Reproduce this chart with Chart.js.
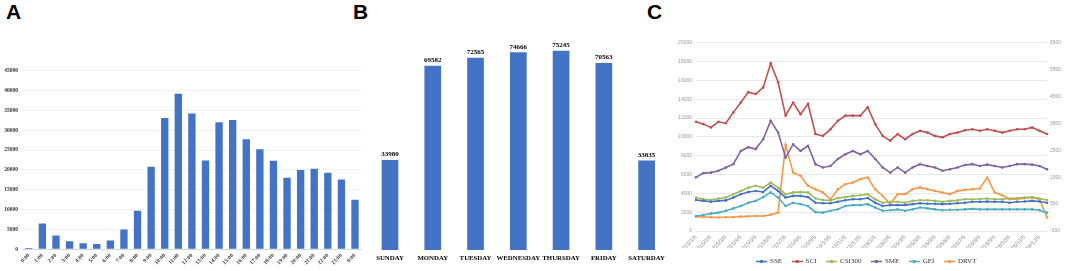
<!DOCTYPE html>
<html>
<head>
<meta charset="utf-8">
<script src="https://cdn.jsdelivr.net/npm/chart.js@4.4.1/dist/chart.umd.min.js"></script>
<style>
  body { margin: 0; background: #fff; width: 1065px; height: 271px; position: relative; overflow: hidden; }
  canvas { position: absolute; }
  .tag { position: absolute; top: 0.5px; font: bold 21px "Liberation Sans", Arial, sans-serif; line-height: 21px; color: #000; }
</style>
</head>
<body>
<div class="tag" style="left:6px">A</div>
<div class="tag" style="left:353px">B</div>
<div class="tag" style="left:647px">C</div>
<canvas id="chartA" width="365" height="216" style="left:0;top:55px"></canvas>
<canvas id="chartB" width="310" height="241" style="left:360px;top:30px"></canvas>
<canvas id="chartC" width="397" height="241" style="left:668px;top:30px"></canvas>
<script>
// panel A: hourly counts
const hours = ["0:00","1:00","2:00","3:00","4:00","5:00","6:00","7:00","8:00","9:00","10:00","11:00","12:00",
  "13:00","14:00","15:00","16:00","17:00","18:00","19:00","20:00","21:00","22:00","23:00","0:00"];
const hourCounts = [350, 6500, 3500, 2000, 1500, 1350, 2200, 5000, 9700, 20800, 33100, 39200, 34200,
  22400, 32000, 32600, 27700, 25200, 22300, 18050, 20000, 20300, 19300, 17600, 12500];

// panel B: weekday counts
const weekdays = ["SUNDAY","MONDAY","TUESDAY","WEDNESDAY","THURSDAY","FRIDAY","SATURDAY"];
const weekdayCounts = [33980, 69582, 72565, 74666, 75245, 70563, 33835];

// panel C: index series, sampled twice a month
const dates = ["2015/1/5","2015/1/20","2015/2/5","2015/2/20","2015/3/5","2015/3/20","2015/4/5","2015/4/20",
  "2015/5/5","2015/5/20","2015/6/5","2015/6/20","2015/7/5","2015/7/20","2015/8/5","2015/8/20",
  "2015/9/5","2015/9/20","2015/10/5","2015/10/20","2015/11/5","2015/11/20","2015/12/5","2015/12/20",
  "2016/1/5","2016/1/20","2016/2/5","2016/2/20","2016/3/5","2016/3/20","2016/4/5","2016/4/20",
  "2016/5/5","2016/5/20","2016/6/5","2016/6/20","2016/7/5","2016/7/20","2016/8/5","2016/8/20",
  "2016/9/5","2016/9/20","2016/10/5","2016/10/20","2016/11/5","2016/11/20","2016/12/5","2016/12/20"];
const sse = [3300,3200,3100,3200,3250,3550,3900,4150,4250,4150,4800,4250,3550,3730,3730,3600,
  3000,2950,2950,3100,3270,3370,3370,3500,3000,2650,2750,2750,2750,2850,2950,2900,
  2900,2850,2900,2950,3000,3100,3100,3130,3100,3100,3000,3100,3130,3200,3130,3000];
const sci = [11600,11350,11000,11600,11450,12600,13650,14750,14550,15250,17800,15800,12250,13650,12400,13500,
  10300,10100,10800,11700,12250,12250,12250,13150,11350,10100,9600,10300,9750,10300,10650,10450,
  10100,9950,10300,10450,10700,10800,10650,10800,10650,10450,10650,10800,10800,11000,10650,10300];
const csi300 = [3550,3370,3300,3450,3550,3900,4250,4600,4800,4600,5150,4600,3900,4100,4150,4100,
  3450,3300,3250,3500,3600,3730,3800,3900,3370,3000,3100,3100,3000,3200,3270,3270,
  3200,3100,3200,3250,3370,3370,3400,3450,3370,3370,3450,3500,3550,3600,3450,3300];
const sme = [5700,6150,6200,6400,6750,7100,8500,8900,8700,9750,11700,10450,7800,9200,8500,9050,
  7100,6750,6900,7650,8150,8500,8150,8500,7650,6750,6200,6750,6200,6750,7100,6900,
  6750,6400,6550,6750,7000,7100,6900,7050,6900,6750,6900,7100,7100,7050,6900,6550];
const gei = [1600,1700,1850,1950,2150,2400,2650,3000,3200,3600,4100,3550,2650,3000,2850,2650,
  2000,1950,2150,2300,2650,2750,2750,2850,2500,2150,2200,2300,2150,2300,2500,2400,
  2300,2200,2250,2250,2300,2350,2300,2300,2300,2300,2300,2300,2300,2300,2200,1950];
const drvt = [35,20,10,0,10,20,35,50,60,60,100,185,2700,1680,1550,1180,
  1050,930,680,1050,1240,1300,1430,1490,1050,800,500,870,870,1050,1120,1050,
  990,930,870,990,1030,1050,1080,1490,930,830,680,680,720,750,680,0];

const barBlue = "#4472C4";
const serif = '"Liberation Serif", "Times New Roman", serif';
const sans = '"Liberation Sans", Arial, sans-serif';
const plainNumber = v => String(v);

// A
new Chart(document.getElementById("chartA"), {
  type: "bar",
  data: {
    labels: hours,
    datasets: [{ data: hourCounts, backgroundColor: barBlue, barPercentage: 0.54, categoryPercentage: 1 }]
  },
  options: {
    responsive: false,
    animation: false,
    layout: { padding: { top: 15.7, right: 3.2 } },
    plugins: { legend: { display: false }, tooltip: { enabled: false } },
    scales: {
      x: {
        afterFit: s => { s.height = 21.7; },
        grid: { display: false, drawTicks: false },
        border: { color: "#d9d9d9" },
        ticks: { autoSkip: false, maxRotation: 45, minRotation: 45, padding: 3,
          font: { family: serif, size: 5.5, weight: "bold" }, color: "#333" }
      },
      y: {
        min: 0, max: 45000,
        afterFit: s => { s.width = 22; },
        grid: { color: "#f2f2f2", drawTicks: false },
        border: { display: false },
        ticks: { stepSize: 5000, padding: 4, callback: plainNumber,
          font: { family: serif, size: 5.5, weight: "bold" }, color: "#333" }
      }
    }
  }
});

// B
const barValueLabels = {
  id: "barValueLabels",
  afterDatasetsDraw(chart) {
    const ctx = chart.ctx;
    const ds = chart.data.datasets[0];
    ctx.save();
    ctx.font = "bold 7px " + serif;
    ctx.fillStyle = "#000";
    ctx.textAlign = "center";
    ctx.textBaseline = "bottom";
    chart.getDatasetMeta(0).data.forEach((bar, i) => {
      ctx.fillText(ds.data[i], bar.x, bar.y - 2);
    });
    ctx.restore();
  }
};

new Chart(document.getElementById("chartB"), {
  type: "bar",
  data: {
    labels: weekdays,
    datasets: [{ data: weekdayCounts, backgroundColor: barBlue, barPercentage: 0.39, categoryPercentage: 1 }]
  },
  options: {
    responsive: false,
    animation: false,
    layout: { padding: { top: 8.1, left: 8.6, right: 2 } },
    plugins: { legend: { display: false }, tooltip: { enabled: false } },
    scales: {
      x: {
        afterFit: s => { s.height = 21; },
        grid: { display: false, drawTicks: false },
        border: { display: false },
        ticks: { autoSkip: false, maxRotation: 0, padding: 4,
          font: { family: serif, size: 6.8, weight: "bold" }, color: "#000" }
      },
      y: { display: false, min: 0, max: 80000 }
    }
  },
  plugins: [barValueLabels]
});

// C
const seriesNames = ["SSE", "SCI", "CSI300", "SME", "GEI", "DRVT"];
const seriesColors = ["#4472C4", "#C0504D", "#9BBB59", "#8064A2", "#4BACC6", "#F79646"];
const seriesData = [sse, sci, csi300, sme, gei, drvt];

function legendMarker(color) {
  const c = document.createElement("canvas");
  c.width = 11; c.height = 5;
  const g = c.getContext("2d");
  g.strokeStyle = color; g.lineWidth = 1.5;
  g.beginPath(); g.moveTo(0, 2.5); g.lineTo(11, 2.5); g.stroke();
  g.fillStyle = color;
  g.beginPath(); g.arc(5.5, 2.5, 1.8, 0, Math.PI * 2); g.fill();
  return c;
}
const markers = seriesColors.map(legendMarker);

new Chart(document.getElementById("chartC"), {
  type: "line",
  data: {
    labels: dates,
    datasets: seriesNames.map((name, i) => ({
      label: name,
      data: seriesData[i],
      yAxisID: name === "DRVT" ? "y1" : "y",
      borderColor: seriesColors[i],
      backgroundColor: seriesColors[i],
      borderWidth: 1.6,
      pointRadius: 1.3,
      pointBorderWidth: 0,
      tension: 0
    }))
  },
  options: {
    responsive: false,
    animation: false,
    layout: { padding: { top: 12.7, bottom: -4 } },
    plugins: {
      tooltip: { enabled: false },
      legend: {
        position: "bottom",
        labels: {
          usePointStyle: true,
          pointStyleWidth: 10,
          padding: 10,
          color: "#333",
          font: { family: serif, size: 7 },
          generateLabels: chart => Chart.defaults.plugins.legend.labels.generateLabels(chart)
            .map((item, i) => ({ ...item, pointStyle: markers[i] }))
        }
      }
    },
    scales: {
      x: {
        afterFit: s => { s.height = 17; },
        grid: { display: false, drawTicks: false },
        border: { display: false },
        ticks: {
          autoSkip: false, maxRotation: 45, minRotation: 45, padding: 3,
          font: { family: sans, size: 5.5 }, color: "#888",
          callback: function (v, i) { return i % 2 === 0 ? this.getLabelForValue(v) : ""; }
        }
      },
      y: {
        position: "left",
        min: 0, max: 20000,
        afterFit: s => { s.width = 28; },
        grid: { color: "#e8e8e8", drawTicks: false },
        border: { display: false },
        ticks: { stepSize: 2000, padding: 4, callback: plainNumber,
          font: { family: sans, size: 5 }, color: "#999" }
      },
      y1: {
        position: "right",
        min: -500, max: 6500,
        afterFit: s => { s.width = 18; },
        grid: { display: false, drawTicks: false },
        border: { display: false },
        ticks: { stepSize: 1000, padding: 3, callback: plainNumber,
          font: { family: sans, size: 5 }, color: "#999" }
      }
    }
  }
});
</script>
</body>
</html>
